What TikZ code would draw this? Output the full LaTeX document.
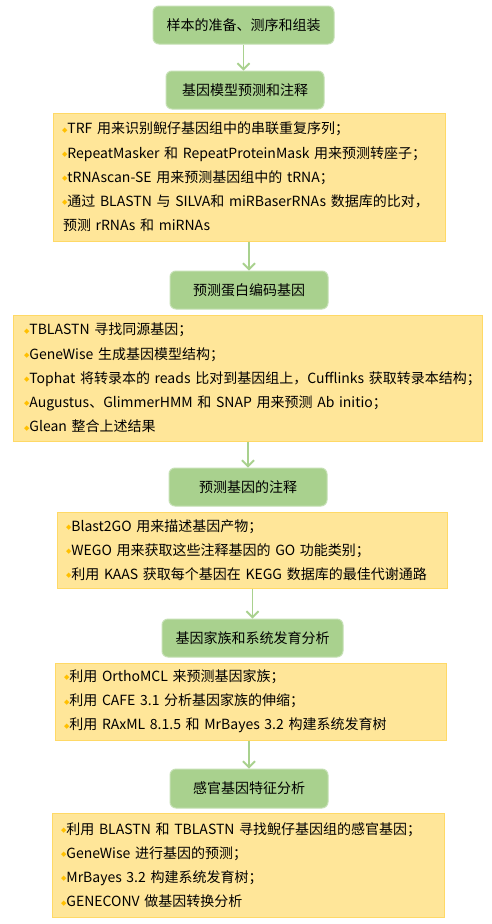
\documentclass[tikz,border=0pt]{standalone}
\usepackage{fontspec}
\setmainfont{Noto Sans CJK SC}
\newfontfamily\dejavu{DejaVu Sans}
\usetikzlibrary{arrows.meta}
\definecolor{gfill}{HTML}{A9D18E}
\definecolor{gdraw}{HTML}{C5E0B4}
\definecolor{yfill}{HTML}{FFE699}
\definecolor{ydraw}{HTML}{FFD966}
\definecolor{bulc}{HTML}{FFC000}
\definecolor{arrc}{HTML}{A9D18E}
\newcommand{\bul}{\raisebox{1.6pt}{\textcolor{bulc}{\fontsize{7}{7}\selectfont\dejavu ◆}}}
\newcommand{\li}[1]{\mbox{\kern-1pt\bul#1}}
\tikzset{
  gbox/.style={draw=gdraw, fill=gfill, line width=1pt, rounded corners=6pt,
    minimum height=38pt, inner sep=0pt, font=\fontsize{14}{16}\selectfont},
  ybox/.style={draw=ydraw, fill=yfill, line width=1pt, align=left,
    font=\fontsize{14}{24.2}\selectfont, inner ysep=0pt},
  arr/.style={draw=arrc, line width=1.8pt, -{Straight Barb[length=6pt,width=12pt]}}
}
\begin{document}
\begin{tikzpicture}[x=1pt,y=-1pt]
\useasboundingbox[fill=white] (0,0) rectangle (491,924);

\node[gbox, minimum width=181pt] (g1) at (243.5,25) {样本的准备、测序和组装};
\node[gbox, minimum width=158pt] (g2) at (245,90) {基因模型预测和注释};
\node[ybox, minimum width=392pt, minimum height=128pt, text width=372pt, inner xsep=10pt] (y1) at (249,177) {%
\li{TRF 用来识别鲵仔基因组中的串联重复序列；}\\
\li{RepeatMasker 和 RepeatProteinMask 用来预测转座子；}\\
\li{tRNAscan-SE 用来预测基因组中的 tRNA；}\\
\li{通过 BLASTN 与 SILVA和 miRBaserRNAs 数据库的比对，}\\
\mbox{预测 rRNAs 和 miRNAs}};

\node[gbox, minimum width=158pt] (g3) at (249,290) {预测蛋白编码基因};
\node[ybox, minimum width=469pt, minimum height=126pt, text width=445pt, inner xsep=12pt] (y2) at (247.5,378) {%
\li{TBLASTN 寻找同源基因；}\\
\li{GeneWise 生成基因模型结构；}\\
\li{Tophat 将转录本的 reads 比对到基因组上，Cufflinks 获取转录本结构；}\\
\li{Augustus、GlimmerHMM 和 SNAP 用来预测 Ab initio；}\\
\li{Glean 整合上述结果}};

\node[gbox, minimum width=158pt] (g4) at (248,487) {预测基因的注释};
\node[ybox, minimum width=390pt, minimum height=76pt, text width=370pt, inner xsep=10pt] (y3) at (252,550) {%
\li{Blast2GO 用来描述基因产物；}\\
\li{WEGO 用来获取这些注释基因的 GO 功能类别；}\\
\li{利用 KAAS 获取每个基因在 KEGG 数据库的最佳代谢通路}};

\node[gbox, minimum width=181pt] (g5) at (252.5,638) {基因家族和系统发育分析};
\node[ybox, minimum width=391pt, minimum height=77pt, text width=371pt, inner xsep=10pt] (y4) at (250.5,701.5) {%
\li{利用 OrthoMCL 来预测基因家族；}\\
\li{利用 CAFE 3.1 分析基因家族的伸缩；}\\
\li{利用 RAxML 8.1.5 和 MrBayes 3.2 构建系统发育树}};

\node[gbox, minimum width=158pt, minimum height=39pt] (g6) at (249,788.5) {感官基因特征分析};
\node[ybox, minimum width=392pt, minimum height=104pt, text width=372pt, inner xsep=10pt] (y5) at (248,865) {%
\li{利用 BLASTN 和 TBLASTN 寻找鲵仔基因组的感官基因；}\\
\li{GeneWise 进行基因的预测；}\\
\li{MrBayes 3.2 构建系统发育树；}\\
\li{GENECONV 做基因转换分析}};

\draw[arr] (g1.south) -- (g1.south |- g2.north);
\draw[arr] (y1.south -| g3.north) -- (g3.north);
\draw[arr] (y2.south -| g4.north) -- (g4.north);
\draw[arr] (y3.south -| g5.north) -- (g5.north);
\draw[arr] (y4.south -| g6.north) -- (g6.north);
\end{tikzpicture}
\end{document}
